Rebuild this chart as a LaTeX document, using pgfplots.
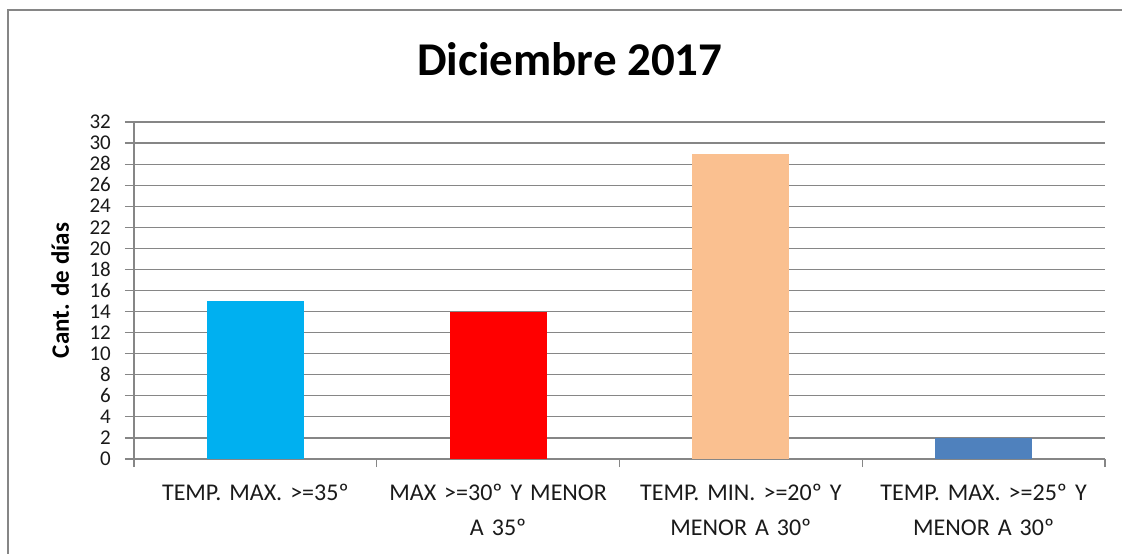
\documentclass[border=0pt]{standalone}
\usepackage{pgfplots}
\pgfplotsset{compat=1.18}
\usepackage{fontspec}
\setmainfont{Carlito}
\definecolor{gridgray}{HTML}{868686}
\definecolor{bcyan}{HTML}{00B0F0}
\definecolor{bred}{HTML}{FF0000}
\definecolor{bpeach}{HTML}{FAC090}
\definecolor{bblue}{HTML}{4F81BD}
\definecolor{txt}{HTML}{1A1A1A}
\begin{document}
\begin{tikzpicture}[x=1pt,y=1pt]
\useasboundingbox (0,0) rectangle (1122,554);
\draw[gridgray, line width=2.2pt] (8,0) -- (8,544) -- (1122,544);
\begin{axis}[
  at={(134pt,95pt)}, anchor=south west,
  scale only axis, width=971pt, height=337pt,
  xmin=-0.5, xmax=3.5, ymin=0, ymax=32,
  ytick={0,2,...,32},
  xtick={0,1,2,3},
  xticklabels={{TEMP. MAX. >=35º},{MAX >=30º Y MENOR\\A 35º},{TEMP. MIN. >=20º Y\\MENOR A 30º},{TEMP. MAX. >=25º Y\\MENOR A 30º}},
  minor xtick={-0.5,0.5,1.5,2.5,3.5},
  x tick style={draw=none},
  minor x tick style={draw=gridgray, line width=1.2pt},
  minor tick length=8pt,
  y tick style={draw=gridgray, line width=1.2pt},
  major tick length=9pt,
  tick align=outside,
  axis x line*=bottom, axis y line*=left,
  axis line style={draw=gridgray, line width=1.2pt, -},
  ymajorgrids,
  grid style={draw=gridgray, line width=1.2pt},
  /pgf/number format/assume math mode=true,
  yticklabel style={font=\fontsize{21}{21}\selectfont, text=txt, inner sep=0pt, text height=13.5pt, text depth=0pt, xshift=-14pt},
  xticklabel style={font=\fontsize{24}{35}\selectfont, text=txt, text width=250pt, align=center, inner sep=0pt, yshift=-16pt},
  ylabel={Cant. de días},
  ylabel style={font=\fontsize{25}{25}\selectfont\bfseries, at={(axis description cs:-0.076,0.5)}, anchor=center},
  title={Diciembre 2017},
  title style={font=\fontsize{47}{47}\selectfont\bfseries, at={(axis description cs:0.449,1.17)}, anchor=center},
]
\addplot[ybar, bar width=0.4, bar shift=0pt, fill=bcyan, draw=none] coordinates {(0,15)};
\addplot[ybar, bar width=0.4, bar shift=0pt, fill=bred, draw=none] coordinates {(1,14)};
\addplot[ybar, bar width=0.4, bar shift=0pt, fill=bpeach, draw=none] coordinates {(2,29)};
\addplot[ybar, bar width=0.4, bar shift=0pt, fill=bblue, draw=none] coordinates {(3,2)};
\end{axis}
\end{tikzpicture}
\end{document}
